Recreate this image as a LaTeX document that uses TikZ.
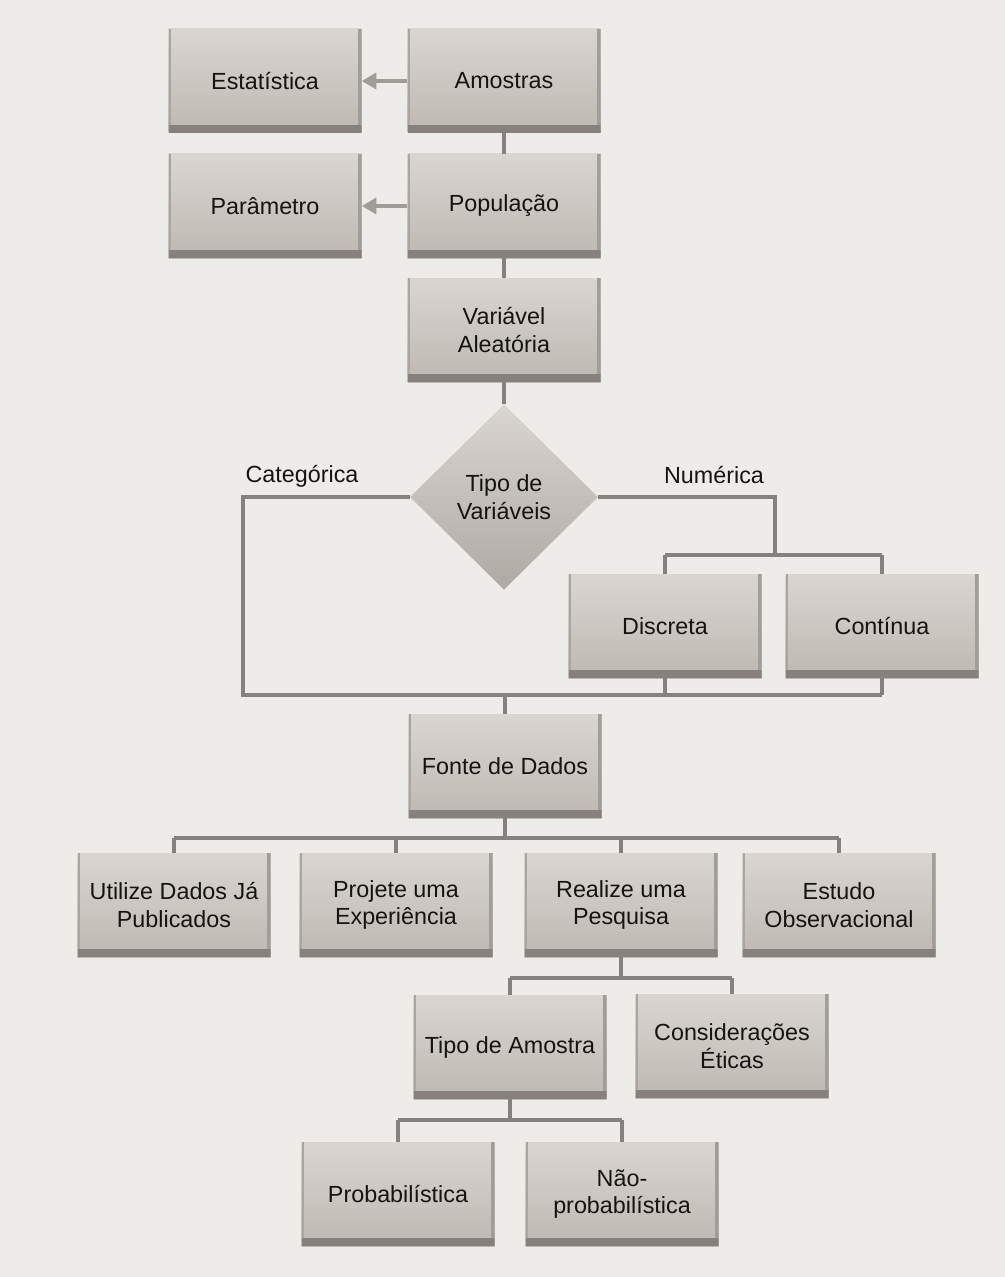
\documentclass[tikz,border=0pt]{standalone}
\usepackage{fontspec}
\setmainfont{Liberation Sans}
\usetikzlibrary{shapes.geometric,arrows.meta}
\definecolor{bg}{HTML}{EDECE9}
\definecolor{boxtop}{HTML}{D9D5D0}
\definecolor{boxbot}{HTML}{BDB8B2}
\definecolor{boxdark}{HTML}{86817D}
\definecolor{linec}{HTML}{85817E}
\definecolor{arrc}{HTML}{A09C98}
\definecolor{txt}{HTML}{151413}
\tikzset{
  bx/.style={rectangle, inner sep=0pt, minimum width=144.75pt, minimum height=78pt,
    align=center, font=\fontsize{17.5}{20.5}\selectfont, text=txt,
    top color=boxtop, bottom color=boxbot,
    path picture={
      \fill[boxdark] (path picture bounding box.south west) rectangle ([yshift=6pt]path picture bounding box.south east);
      \fill[boxdark!50!boxbot] (path picture bounding box.north east) rectangle ([xshift=-3pt,yshift=6pt]path picture bounding box.south east);
      \fill[boxdark!35!boxbot] (path picture bounding box.north west) rectangle ([xshift=2pt,yshift=6pt]path picture bounding box.south west);
    }},
  dia/.style={diamond, inner sep=0pt, minimum width=141pt, minimum height=139pt,
    align=center, font=\fontsize{17.5}{20.5}\selectfont, text=txt,
    top color=boxtop, bottom color=boxbot!92!black},
  ln/.style={draw=linec, line width=2.3pt},
  arr/.style={draw=arrc, line width=3pt, -{Triangle[length=11pt,width=12pt]}},
  lbl/.style={font=\fontsize{17.5}{20.5}\selectfont, text=txt}
}
\begin{document}
\begin{tikzpicture}[x=0.75pt,y=-0.75pt]
\fill[bg] (0,0) rectangle (1005,1277);
\useasboundingbox (0,0) rectangle (1005,1277);

% top rows
\node[bx] (est) at (265,81) {Estatística};
\node[bx] (am)  at (504,81) {Amostras};
\node[bx] (par) at (265,206) {Parâmetro};
\node[bx] (pop) at (504,206) {População};
\node[bx] (var) at (504,330) {Variável\\Aleatória};
\node[dia] (tv) at (504,497) {Tipo de\\Variáveis};

\draw[arr] (am.west) -- (est.east);
\draw[arr] (pop.west) -- (par.east);
\draw[ln] (am.south) -- (pop.north);
\draw[ln] (pop.south) -- (var.north);
\draw[ln] (var.south) -- (tv.north);

% variable types
\node[bx] (disc) at (665,626) {Discreta};
\node[bx] (cont) at (882,626) {Contínua};
\node[lbl] (cat) at (302,476) {Categórica};
\node[lbl] (num) at (714,475) {Numérica};

\coordinate (bl) at (243,695);
\coordinate (nr) at (775,555);
\draw[ln] (tv.west) -| (bl) -- (cont.south |- bl);
\draw[ln] (disc.south) -- (disc.south |- bl);
\draw[ln] (cont.south) -- (cont.south |- bl);
\draw[ln] (tv.east) -| (nr);
\draw[ln] (disc.north |- nr) -- (cont.north |- nr);
\draw[ln] (disc.north) -- (disc.north |- nr);
\draw[ln] (cont.north) -- (cont.north |- nr);

% data source
\node[bx] (fon) at (505,766) {Fonte de Dados};
\draw[ln] (fon.north) -- (fon.north |- bl);

\node[bx] (uti) at (174,905) {Utilize Dados Já\\Publicados};
\node[bx] (pro) at (396,905) {Projete uma\\Experiência};
\node[bx] (rea) at (621,905) {Realize uma\\Pesquisa};
\node[bx] (obs) at (839,905) {Estudo\\Observacional};

\coordinate (b2) at (505,838);
\draw[ln] (fon.south) -- (b2);
\draw[ln] (uti.north |- b2) -- (obs.north |- b2);
\foreach \n in {uti,pro,rea,obs} \draw[ln] (\n.north) -- (\n.north |- b2);

% survey
\node[bx] (tam) at (510,1047) {Tipo de Amostra};
\node[bx] (eti) at (732,1046) {Considerações\\Éticas};
\coordinate (b3) at (621,978);
\draw[ln] (rea.south) -- (b3);
\draw[ln] (tam.north |- b3) -- (eti.north |- b3);
\draw[ln] (tam.north) -- (tam.north |- b3);
\draw[ln] (eti.north) -- (eti.north |- b3);

\node[bx] (prb) at (398,1194) {Probabilística};
\node[bx] (npr) at (622,1194) {Não-\\probabilística};
\coordinate (b4) at (510,1120);
\draw[ln] (tam.south) -- (b4);
\draw[ln] (prb.north |- b4) -- (npr.north |- b4);
\draw[ln] (prb.north) -- (prb.north |- b4);
\draw[ln] (npr.north) -- (npr.north |- b4);
\end{tikzpicture}
\end{document}
